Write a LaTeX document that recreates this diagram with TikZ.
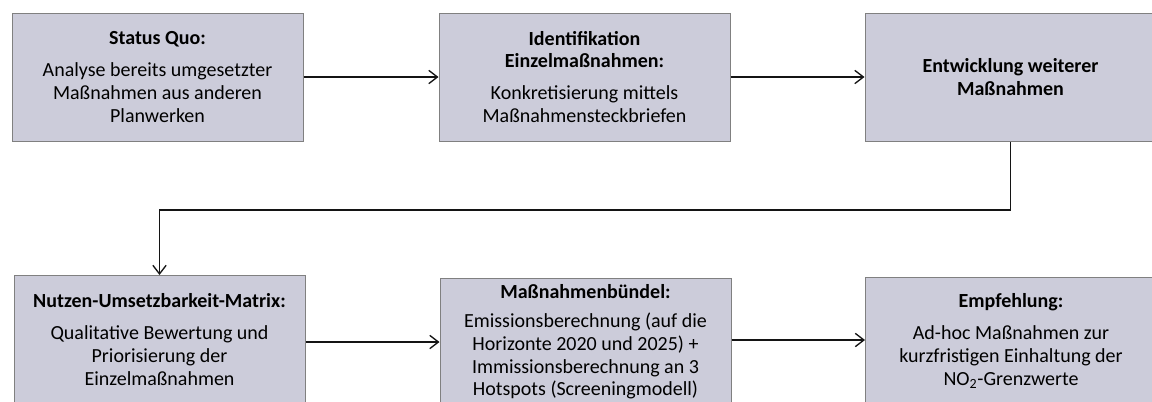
\documentclass[tikz,border=0pt]{standalone}
\usepackage{fontspec}
\setmainfont{Carlito}
\usetikzlibrary{arrows.meta}
\definecolor{boxfill}{RGB}{204,204,218}
\definecolor{boxline}{RGB}{128,128,128}
\definecolor{arrline}{RGB}{20,20,20}
\tikzset{
  stepbox/.style={draw=boxline, fill=boxfill, line width=0.75pt,
    minimum width=218.25pt, minimum height=96pt, inner sep=0pt,
    align=center, font=\fontsize{15pt}{17pt}\selectfont},
  arr/.style={draw=arrline, line width=1pt, -{Straight Barb[length=6.5pt,width=10pt]}},
}
\newcommand{\ttl}[1]{\textbf{#1}}
\begin{document}
\begin{tikzpicture}[x=0.75pt,y=-0.75pt]
\useasboundingbox (0,0) rectangle (1152,401);
\clip (0,0) rectangle (1152,401);
\fill[white] (0,0) rectangle (1152,401);
\node[stepbox] (b1) at (157.5,77) {\ttl{Status Quo:}\\[7pt]Analyse bereits umgesetzter\\Maßnahmen aus anderen\\Planwerken};
\node[stepbox] (b2) at (584.5,77) {\ttl{Identifikation}\\\ttl{Einzelmaßnahmen:}\\[7pt]Konkretisierung mittels\\Maßnahmensteckbriefen};
\node[stepbox] (b3) at (1010.5,77) {\ttl{Entwicklung weiterer}\\\ttl{Maßnahmen}};
\node[stepbox] (b4) at (159.5,339.5) {\ttl{Nutzen-Umsetzbarkeit-Matrix:}\\[7pt]Qualitative Bewertung und\\Priorisierung der\\Einzelmaßnahmen};
\node[stepbox] (b5) at (585.5,342) {\ttl{Maßnahmenbündel:}\\[5pt]Emissionsberechnung (auf die\\Horizonte 2020 und 2025) +\\Immissionsberechnung an 3\\Hotspots (Screeningmodell)};
\node[stepbox] (b6) at (1011,341) {\ttl{Empfehlung:}\\[7pt]Ad-hoc Maßnahmen zur\\kurzfristigen Einhaltung der\\NO\textsubscript{2}-Grenzwerte};
\coordinate (bend) at (0,210);
\draw[arr] (b1) -- (b2);
\draw[arr] (b2) -- (b3);
\draw[arr] (b3.south) -- (b3.south |- bend) -| (b4.north);
\draw[arr] (b4.east |- 0,342) -- (b5.west |- 0,342);
\draw[arr] (b5.east |- 0,340) -- (b6.west |- 0,340);
\end{tikzpicture}
\end{document}
